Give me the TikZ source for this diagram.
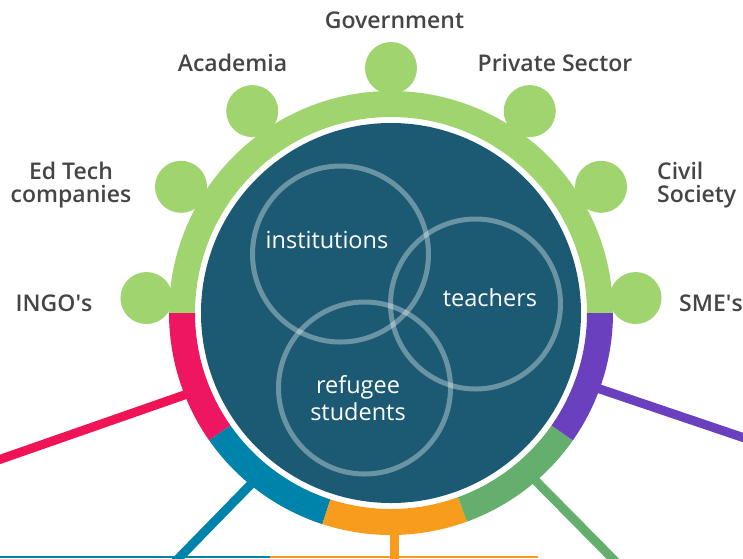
\documentclass[tikz,border=0pt]{standalone}
\usepackage{fontspec}
\setmainfont{Open Sans}
\newfontfamily\semibold{Open Sans Semibold}
\usetikzlibrary{positioning}
\definecolor{ringgreen}{RGB}{160,212,110}
\definecolor{core}{RGB}{27,90,114}
\definecolor{seg1}{RGB}{238,22,96}
\definecolor{seg2}{RGB}{0,131,170}
\definecolor{seg3}{RGB}{248,156,30}
\definecolor{seg4}{RGB}{100,175,109}
\definecolor{seg5}{RGB}{107,64,190}
\definecolor{labelgrey}{RGB}{69,69,69}

\begin{document}
\begin{tikzpicture}[x=1pt, y=1pt,
  stake/.style={font=\semibold\fontsize{23}{23}\selectfont, text=labelgrey, inner sep=0pt},
  group/.style={font=\fontsize{23.5}{27}\selectfont, text=white, align=center, inner sep=0pt},
  knob/.style={circle, fill=ringgreen, minimum size=52pt, inner sep=0pt},
  venn/.style={draw=white, draw opacity=0.35, line width=5pt},
  spoke/.style={line width=9pt}]
\useasboundingbox (-391,-245) rectangle (352,313);
\clip (-391,-245) rectangle (352,313);

% spokes
\coordinate (s1) at (-198,-79);   \coordinate (e1) at (-400,-149.5);
\coordinate (s2) at (-134,-165);  \coordinate (e2) at (-216,-249);
\coordinate (s3) at (3.5,-205);   \coordinate (e3) at (3.5,-249);
\coordinate (s4) at (138,-161);   \coordinate (e4) at (225,-249);
\coordinate (s5) at (200,-73);    \coordinate (e5) at (360,-127.2);
\draw[spoke, seg1!90!red] (s1) -- (e1);
\draw[spoke, seg2] (s2) -- (e2);
\draw[spoke, seg3] (s3) -- (e3);
\draw[spoke, seg4] (s4) -- (e4);
\draw[spoke, seg5] (s5) -- (e5);

% thin rules at the foot
\coordinate (f1) at (-391,-244); \coordinate (f2) at (-121,-244); \coordinate (f3) at (147,-244);
\draw[seg2, line width=1.5pt] (f1) -- (f2);
\draw[seg3, line width=1.5pt] (f2) -- (f3);

% knobs
\foreach \ang/\nm in {3.5/sme, 31/civil, 55.5/private, 90/gov, 124.5/acad, 149/edtech, 176.5/ingo}
  \node[knob] (k-\nm) at (\ang:245) {};

% ring
\fill[ringgreen] (0:222) arc[start angle=0, end angle=180, radius=222]
  -- (180:196) arc[start angle=180, end angle=0, radius=196] -- cycle;
\foreach \a/\b/\c in {180/215/seg1, 215/252/seg2, 252/290/seg3, 290/325/seg4, 325/360/seg5}
  \fill[\c] (\a:222) arc[start angle=\a, end angle=\b, radius=222]
    -- (\b:196) arc[start angle=\b, end angle=\a, radius=196] -- cycle;

% core
\fill[core] (0,0) circle[radius=190];
\draw[venn] (-50.5,59) circle[radius=88];
\draw[venn] (84.5,9) circle[radius=85];
\draw[venn] (-26.5,-75) circle[radius=86];

\node[group] (inst) at (-64,73) {institutions};
\node[group] (teach) at (99,15) {teachers};
\node[group] (refu) at (-33,-85.5) {refugee\\students};

% stakeholders
\node[stake] (l-gov) at (3.5,293) {Government};
\node[stake] (l-acad) at (-158.5,250) {Academia};
\node[stake] (l-private) at (164,250) {Private Sector};
\node[stake, align=center] (l-edtech) at (-320,127.5) {Ed Tech\\companies};
\node[stake] (l-ingo) at (-337,9.5) {INGO\textquotesingle s};
\node[stake, align=left, anchor=west] (l-civil) at (266,127.5) {Civil\\Society};
\node[stake, anchor=west] (l-sme) at (288,9.5) {SME\textquotesingle s};
\end{tikzpicture}
\end{document}
